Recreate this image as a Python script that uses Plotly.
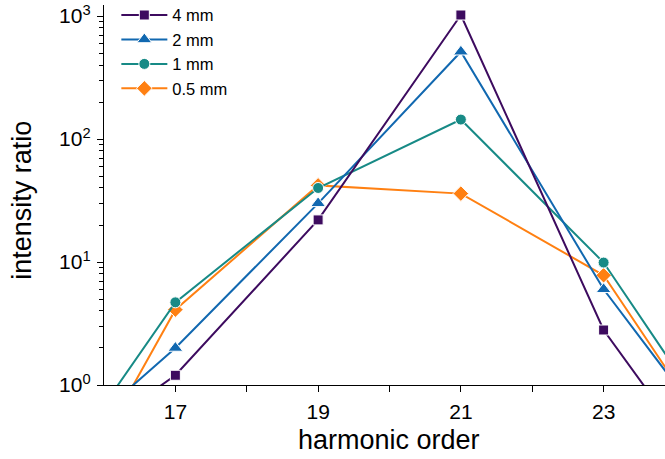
import plotly.graph_objects as go

# harmonic orders (15 and 25 lie just outside the visible x-range)
orders = [15, 17, 19, 21, 23, 25]

# intensity ratio per interaction length
ratio_4mm = [0.18, 1.2, 22, 1020, 2.8, 0.07]
ratio_2mm = [0.19, 2.0, 30, 513, 6.0, 0.175]
ratio_1mm = [0.10, 4.7, 40, 144, 9.9, 0.19]
ratio_05mm = [0.034, 4.1, 42, 36, 7.8, 0.145]

series_names = ["4 mm", "2 mm", "1 mm", "0.5 mm"]
series_values = [ratio_4mm, ratio_2mm, ratio_1mm, ratio_05mm]
series_colors = ["#3d0b5f", "#1168b0", "#178a86", "#ff8012"]
series_symbols = ["square", "triangle-up", "circle", "diamond"]
series_sizes = [10, 13, 11, 12]

x_ticks = [17, 19, 21, 23]
x_minor = [18, 20, 22]
y_ticks = [1, 10, 100, 1000]
y_ticktext = ["10<sup>0</sup>", "10<sup>1</sup>", "10<sup>2</sup>", "10<sup>3</sup>"]
y_minor = [m * d for d in (1, 10, 100) for m in range(2, 10)]

FONT = "Liberation Sans, Arial, sans-serif"

fig = go.Figure()
# draw thinnest-first so the 4 mm curve sits on top
for name, vals, col, sym, sz in reversed(list(zip(series_names, series_values,
                                                   series_colors, series_symbols,
                                                   series_sizes))):
    fig.add_trace(go.Scatter(
        x=orders, y=vals, name=name, mode="lines+markers",
        line=dict(color=col, width=2),
        marker=dict(symbol=sym, size=sz, color=col,
                    line=dict(color="white", width=1)),
    ))

fig.update_layout(
    width=665, height=459,
    margin=dict(l=104, r=0, t=5, b=74, autoexpand=False),
    paper_bgcolor="white", plot_bgcolor="white",
    font=dict(family=FONT, color="black"),
    showlegend=True,
    legend=dict(x=0.022, y=1.019, xanchor="left", yanchor="top",
                traceorder="reversed", bgcolor="rgba(0,0,0,0)",
                font=dict(size=16.5, family=FONT), itemwidth=46,
                tracegroupgap=0),
)

fig.update_xaxes(
    range=[16, 23.86], showgrid=False, zeroline=False,
    showline=True, linecolor="black", linewidth=1.3,
    tickmode="array", tickvals=x_ticks, ticks="outside", ticklen=6,
    tickwidth=1.3, tickcolor="black", tickfont=dict(size=21),
    ticklabelstandoff=2,
    minor=dict(tickmode="array", tickvals=x_minor, ticks="outside",
               ticklen=6, tickwidth=1.3, tickcolor="black"),
)
fig.update_yaxes(
    type="log", range=[0, 3.09], showgrid=False, zeroline=False,
    showline=True, linecolor="black", linewidth=1.3,
    tickmode="array", tickvals=y_ticks, ticktext=y_ticktext,
    ticks="outside", ticklen=6, tickwidth=1.3, tickcolor="black",
    tickfont=dict(size=21), ticklabelstandoff=2,
    minor=dict(tickmode="array", tickvals=y_minor, ticks="outside",
               ticklen=4, tickwidth=1.1, tickcolor="black"),
)

# axis titles
fig.add_annotation(text="harmonic order", xref="paper", yref="paper",
                   x=0.508, y=-0.145, xanchor="center", yanchor="middle",
                   showarrow=False, font=dict(size=27, family=FONT))
fig.add_annotation(text="intensity ratio", xref="paper", yref="paper",
                   x=-0.146, y=0.485, xanchor="center", yanchor="middle",
                   textangle=-90, showarrow=False,
                   font=dict(size=27, family=FONT))

fig.write_html("out.html")
